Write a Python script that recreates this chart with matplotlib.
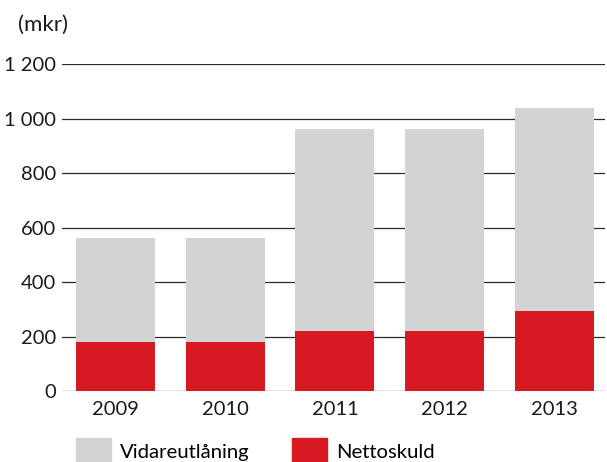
import matplotlib
matplotlib.use("Agg")
import matplotlib.pyplot as plt
from matplotlib.patches import Patch

years = ["2009", "2010", "2011", "2012", "2013"]
nettoskuld = [180, 180, 220, 220, 295]
vidareutlaning = [380, 380, 740, 740, 745]
yticks = [0, 200, 400, 600, 800, 1000, 1200]
ytick_labels = ["0", "200", "400", "600", "800", "1 000", "1 200"]

plt.rcParams['font.family'] = ['Lato', 'DejaVu Sans']

fig = plt.figure(figsize=(6.07, 4.62), dpi=100)
ax = fig.add_axes([62/607, 1-391/462, (605-62)/607, (391-64)/462])

x = list(range(len(years)))
gray = '#D2D3D5'
red = '#D71A21'
ax.bar(x, nettoskuld, width=0.72, color=red, zorder=3)
ax.bar(x, vidareutlaning, bottom=nettoskuld, width=0.72, color=gray, zorder=3)

ax.set_ylim(0, 1200)
ax.set_xlim(-0.487, 4.46)
ax.set_yticks(yticks)
ax.set_yticklabels(ytick_labels)
ax.set_xticks(x)
ax.set_xticklabels(years)
for y in yticks:
    ax.axhline(y, color='#2a2a2a', lw=0.9, zorder=1)
for s in ax.spines.values():
    s.set_visible(False)
ax.tick_params(axis='both', length=0, labelsize=14.5, colors='#1a1a1a')
ax.tick_params(axis='y', pad=4)
ax.tick_params(axis='x', pad=7)

fig.text(18/607, 1-25/462, "(mkr)", fontsize=16, color='#1a1a1a', va='center', ha='left')

handles = [Patch(color=gray, label='Vidareutlåning'), Patch(color=red, label='Nettoskuld')]
fig.legend(handles=handles, loc='lower left', bbox_to_anchor=(70/607, -9/462), ncol=2,
           frameon=False, fontsize=14.6, handlelength=1.72, handleheight=1.65,
           handletextpad=0.45, columnspacing=2.1, borderaxespad=0, borderpad=0.3)

fig.savefig("out.png", dpi=100)
